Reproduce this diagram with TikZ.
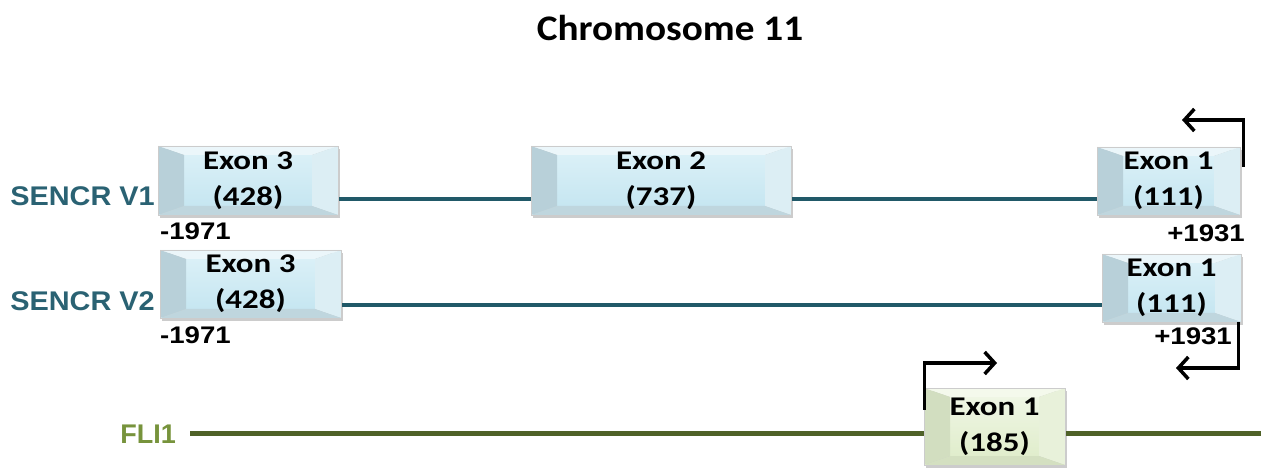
\documentclass[tikz,border=0pt]{standalone}
\usepackage{fontspec}
\usepackage{graphicx}
\setmainfont{Carlito}
\newfontfamily\arialf{Liberation Sans}
\usetikzlibrary{arrows.meta,backgrounds}
\definecolor{tealc}{HTML}{215968}
\definecolor{tealtxt}{HTML}{2A6273}
\definecolor{olivec}{HTML}{4F6228}
\definecolor{olivetxt}{HTML}{77933C}
\definecolor{bin1}{HTML}{DAF0F7}
\definecolor{bin2}{HTML}{C6E6F1}
\definecolor{btop}{HTML}{EBF6FA}
\definecolor{bleft}{HTML}{B8D0D9}
\definecolor{bright}{HTML}{DCEEF4}
\definecolor{bbot}{HTML}{BFD6DE}
\definecolor{gin1}{HTML}{EFF6E4}
\definecolor{gin2}{HTML}{E0EDCC}
\definecolor{gtop}{HTML}{F4F9EC}
\definecolor{gleft}{HTML}{D2DEC0}
\definecolor{gright}{HTML}{E8F1DA}
\definecolor{gbot}{HTML}{D4E0C1}
\newcommand\bevelfill[6]{%
  \coordinate (bnw) at (path picture bounding box.north west);
  \coordinate (bne) at (path picture bounding box.north east);
  \coordinate (bsw) at (path picture bounding box.south west);
  \coordinate (bse) at (path picture bounding box.south east);
  \coordinate (inw) at ([xshift=26pt,yshift=-9pt]bnw);
  \coordinate (ine) at ([xshift=-26pt,yshift=-9pt]bne);
  \coordinate (isw) at ([xshift=26pt,yshift=9pt]bsw);
  \coordinate (ise) at ([xshift=-26pt,yshift=9pt]bse);
  \shade[top color=#1, bottom color=#2] (inw) rectangle (ise);
  \fill[#3] (bnw) -- (bne) -- (ine) -- (inw) -- cycle;
  \fill[#4] (bnw) -- (inw) -- (isw) -- (bsw) -- cycle;
  \fill[#5] (bne) -- (ine) -- (ise) -- (bse) -- cycle;
  \fill[#6] (bsw) -- (isw) -- (ise) -- (bse) -- cycle;
}
\newcommand\wx[1]{\scalebox{1.22}[1]{#1}}
\newcommand\wn[1]{\scalebox{1.15}[1]{#1}}
\tikzset{
  exonbox/.style={draw=black!20, line width=0.6pt, inner sep=0pt, align=center,
    font=\fontsize{27}{36}\selectfont\bfseries},
  blueexon/.style={exonbox, path picture={\bevelfill{bin1}{bin2}{btop}{bleft}{bright}{bbot}}},
  greenexon/.style={exonbox, path picture={\bevelfill{gin1}{gin2}{gtop}{gleft}{gright}{gbot}}},
  shadowbox/.style={fill=black!20},
  tline/.style={draw=tealc, line width=4pt},
  gline/.style={draw=olivec, line width=5pt},
  parrow/.style={draw=black, line width=3.5pt, -{Straight Barb[length=10pt,width=22pt]}},
  seqlabel/.style={font=\arialf\fontsize{27}{30}\selectfont\bfseries, inner sep=0pt},
  poslabel/.style={font=\arialf\fontsize{24}{26}\selectfont\bfseries, inner sep=0pt}
}
\begin{document}
\begin{tikzpicture}[x=1pt,y=-1pt]
\useasboundingbox (0,0) rectangle (1261,470);

\node[font=\fontsize{36}{40}\selectfont\bfseries] (title) at (670,28) {\scalebox{1.09}[1]{Chromosome 11}};

% SENCR V1
\node[blueexon, minimum width=180pt, minimum height=69pt] (v1e3) at (248,180.5) {\wx{Exon 3}\\\wx{(428)}};
\node[blueexon, minimum width=260pt, minimum height=69pt] (v1e2) at (661,180.5) {\wx{Exon 2}\\\wx{(737)}};
\node[blueexon, minimum width=143pt, minimum height=68pt] (v1e1) at (1168.5,181) {\wx{Exon 1}\\\wx{(111)}};
% SENCR V2
\node[blueexon, minimum width=181pt, minimum height=68pt] (v2e3) at (250.5,284) {\wx{Exon 3}\\\wx{(428)}};
\node[blueexon, minimum width=139pt, minimum height=68pt] (v2e1) at (1171.5,288) {\wx{Exon 1}\\\wx{(111)}};
% FLI1
\node[greenexon, minimum width=141pt, minimum height=77pt] (fe1) at (994.5,426.5) {\wx{Exon 1}\\\wx{(185)}};

\begin{pgfonlayer}{background}
  \foreach \n in {v1e3,v1e2,v1e1,v2e3,v2e1,fe1}
    \fill[shadowbox] ([xshift=2pt,yshift=-3pt]\n.south west) rectangle ([xshift=2pt,yshift=-3pt]\n.north east);
\end{pgfonlayer}

% labels
\node[seqlabel, text=tealtxt, anchor=east] (l1) at (155,196) {\scalebox{1.07}[1]{SENCR V1}};
\node[seqlabel, text=tealtxt, anchor=east] (l2) at (155,301) {\scalebox{1.07}[1]{SENCR V2}};
\node[seqlabel, text=olivetxt, anchor=east] (l3) at (176,434) {FLI1};

\node[poslabel, anchor=west] (p1) at (160,231) {\wn{-1971}};
\node[poslabel, anchor=west] (p2) at (160,335) {\wn{-1971}};
\node[poslabel, anchor=east] (p3) at (1245,233) {\wn{+1931}};
\node[poslabel, anchor=east] (p4) at (1232,336) {\wn{+1931}};

% connectors
\begin{pgfonlayer}{background}
\draw[tline] ([yshift=-18.5pt]v1e3.east) coordinate (c1) -- (c1 -| v1e2.west);
\draw[tline] ([yshift=-18.5pt]v1e2.east) coordinate (c2) -- (c2 -| v1e1.west);
\draw[tline] ([yshift=-21pt]v2e3.east) coordinate (c3) -- (c3 -| v2e1.west);
\coordinate (fend) at (1261,433);
\draw[gline] ([xshift=14pt]l3.east |- fend) -- (fend -| fe1.west);
\draw[gline] (fend -| fe1.east) -- (fend);
\end{pgfonlayer}

% promoter arrows
\coordinate (a1e) at (1182,120);
\coordinate (a2e) at (1176,368);
\coordinate (a3e) at (997,363);
\draw[parrow] ([xshift=3pt,yshift=-20pt]v1e1.north east) |- (a1e);
\draw[parrow] ([xshift=-3pt]v2e1.south east) |- (a2e);
\draw[parrow] ([xshift=1pt,yshift=-22pt]fe1.north west) |- (a3e);
\end{tikzpicture}
\end{document}
